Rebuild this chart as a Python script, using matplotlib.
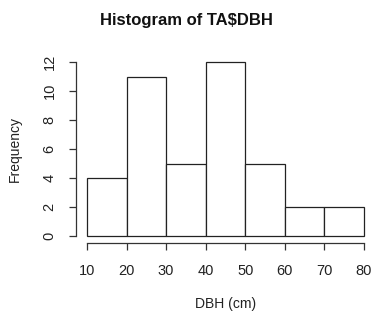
import numpy as np
import matplotlib.pyplot as plt

plt.rcParams['font.family'] = ['Liberation Sans', 'DejaVu Sans']

# histogram bins and counts
bin_edges = [10, 20, 30, 40, 50, 60, 70, 80]
counts = [4, 11, 5, 12, 5, 2, 2]
x_ticks = [10, 20, 30, 40, 50, 60, 70, 80]
y_ticks = [0, 2, 4, 6, 8, 10, 12]

fig = plt.figure(figsize=(3.72, 3.14), dpi=100)
ax = fig.add_axes([87 / 372, 78 / 314, 277 / 372, 174 / 314])

edges = np.array(bin_edges)
ax.bar(edges[:-1], counts, width=np.diff(edges), align='edge',
       color='white', edgecolor='#222222', linewidth=0.9, clip_on=False)

ax.set_xlim(10, 80)
ax.set_ylim(0, 12)

for s in ['top', 'right']:
    ax.spines[s].set_visible(False)
ax.spines['left'].set_position(('outward', 8))
ax.spines['bottom'].set_position(('outward', 5))
ax.spines['left'].set_bounds(0, 12)
ax.spines['bottom'].set_bounds(10, 80)
for s in ['left', 'bottom']:
    ax.spines[s].set_color('#333333')
    ax.spines[s].set_linewidth(0.9)

ax.set_xticks(x_ticks)
ax.set_yticks(y_ticks)
ax.tick_params(axis='x', pad=10)
ax.tick_params(axis='y', pad=9)
ax.tick_params(axis='both', length=5, width=0.9, color='#333333',
               labelsize=10.5, labelcolor='#222222')
plt.setp(ax.get_yticklabels(), rotation=90, va='center')

ax.set_xlabel('DBH (cm)', fontsize=10, labelpad=14, color='#222222')
ax.set_ylabel('Frequency', fontsize=10, labelpad=15, color='#222222')
fig.text(0.5, 0.935, 'Histogram of TA$DBH', ha='center', va='center',
         fontsize=12, fontweight='bold', color='#111111')

fig.savefig('out.png', dpi=100)
